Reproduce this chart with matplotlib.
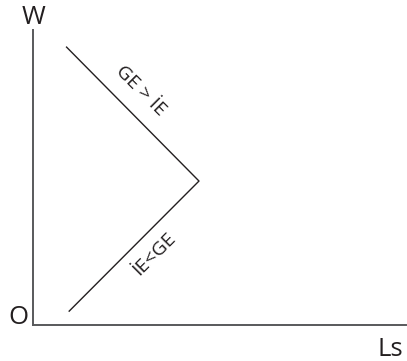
import matplotlib
matplotlib.use('Agg')
import matplotlib.pyplot as plt

plt.rcParams['font.family'] = ['Open Sans', 'DejaVu Sans']

# kinked curve (Ls on x, W on y)
curve_x = [0.9, 4.45, 0.97]
curve_y = [9.42, 4.88, 0.47]

# segment labels: text, x, y, angle
seg_labels = ['GE > İE', 'İE<GE']
seg_x = [2.88, 3.24]
seg_y = [7.93, 2.40]
seg_rot = [-45, 45]

fig = plt.figure(figsize=(4.07, 3.61), dpi=100)
ax = fig.add_axes([33 / 407, 36 / 361, 373 / 407, 295 / 361])

ax.plot(curve_x, curve_y, color='#231f20', lw=1.0)
for txt, x, y, r in zip(seg_labels, seg_x, seg_y, seg_rot):
    ax.text(x, y, txt, rotation=r, ha='center', va='center',
            rotation_mode='anchor', fontsize=14, color='#231f20')

ax.set_xlim(0, 10)
ax.set_ylim(0, 10)
for s in ['top', 'right']:
    ax.spines[s].set_visible(False)
for s in ['left', 'bottom']:
    ax.spines[s].set_color('#58595b')
    ax.spines[s].set_linewidth(1.4)
ax.set_xticks([])
ax.set_yticks([])

fig.text(33 / 407, 1 - 17 / 361, 'W', ha='center', va='center', fontsize=18.5, color='#231f20')
fig.text(18 / 407, 1 - 317 / 361, 'O', ha='center', va='center', fontsize=18.5, color='#231f20')
fig.text(390 / 407, 1 - 349 / 361, 'Ls', ha='center', va='center', fontsize=18.5, color='#231f20')

fig.savefig('out.png', dpi=100)
